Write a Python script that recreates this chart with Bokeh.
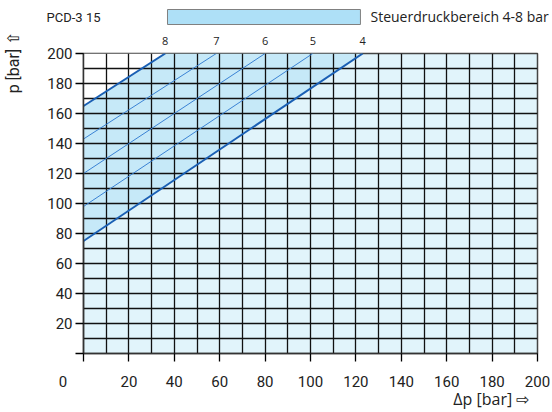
from bokeh.plotting import figure
from bokeh.layouts import column
from bokeh.models import Range1d, SingleIntervalTicker, FixedTicker, LinearAxis
from bokeh.embed import file_html
from bokeh.resources import INLINE

# ---- data ----
chart_title = "PCD-3 15"
legend_text = "Steuerdruckbereich 4-8 bar"
x_title = "Δp [bar] ⇨"
y_title = "p [bar] ⇧"
pilot_pressures = ["8", "7", "6", "5", "4"]      # bar
p_at_zero = [165, 143, 120, 98, 75]              # p where Δp = 0
dp_at_top = [36, 58.5, 80, 101, 123]             # Δp where p = 200
x_ticks = [0, 20, 40, 60, 80, 100, 120, 140, 160, 180, 200]
y_ticks = [0, 20, 40, 60, 80, 100, 120, 140, 160, 180, 200]

TICKF = "Roboto"
DIN = "Open Sans"
TXT = "#222222"
NBSP = "\u00a0"

W = 552
LEFT, RIGHT = 83, 15
TOP_H = 26
x0, x1 = x_ticks[0], x_ticks[-1]


def hide_axis_marks(ax):
    ax.axis_line_color = None
    ax.major_tick_line_color = None
    ax.minor_tick_line_color = None
    ax.major_tick_in = 0
    ax.major_tick_out = 0


# ---------- top strip: title + legend ----------
t = figure(width=W, height=TOP_H, x_range=Range1d(x0, x1), y_range=Range1d(0, TOP_H),
           output_backend="svg", toolbar_location=None, x_axis_location=None,
           y_axis_location="left", min_border_left=LEFT, min_border_right=RIGHT,
           min_border_top=0, min_border_bottom=0)
t.grid.visible = False
t.outline_line_color = None
t.title.visible = False
ya = t.yaxis[0]
ya.ticker = FixedTicker(ticks=[9])
ya.major_label_overrides = {9: chart_title}
hide_axis_marks(ya)
ya.major_label_standoff = -17
ya.major_label_text_font = TICKF
ya.major_label_text_font_size = "13px"
ya.major_label_text_color = TXT
ra = LinearAxis(ticker=FixedTicker(ticks=[9]), major_label_overrides={9: legend_text},
                major_label_standoff=-167, major_label_text_font=DIN,
                major_label_text_font_size="14px", major_label_text_color=TXT)
hide_axis_marks(ra)
t.add_layout(ra, "right")
t.quad(left=[37], right=[122], bottom=[2], top=[17],
       fill_color="#aee0f7", line_color="#808080", line_width=1)

# ---------- main chart ----------
p = figure(width=W, height=412 - TOP_H, x_range=Range1d(x0, x1),
           y_range=Range1d(y_ticks[0], y_ticks[-1]), output_backend="svg",
           toolbar_location=None, min_border_left=LEFT, min_border_right=RIGHT,
           min_border_top=27, min_border_bottom=57)
p.title.visible = False
p.background_fill_color = "#e1f4fb"
p.border_fill_color = "white"
p.outline_line_color = "#444444"
p.outline_line_width = 1.5

top = y_ticks[-1]
p.patch([0, dp_at_top[0], 0], [p_at_zero[0], top, top],
        fill_color="white", line_color=None, level="image")
p.patch([0, dp_at_top[-1], dp_at_top[0], 0], [p_at_zero[-1], top, top, p_at_zero[0]],
        fill_color="#c6e9f8", line_color=None, level="image")

for g in (p.xgrid, p.ygrid):
    g.ticker = SingleIntervalTicker(interval=10)
    g.grid_line_color = "#111111"
    g.grid_line_width = 1.3

for i, lab in enumerate(pilot_pressures):
    thick = lab in ("8", "4")
    p.line([0, dp_at_top[i]], [p_at_zero[i], top],
           line_color="#1a5fb4" if thick else "#3a82d4",
           line_width=2 if thick else 1)

for ax, ticks in ((p.xaxis[0], x_ticks), (p.yaxis[0], y_ticks)):
    ax.ticker = FixedTicker(ticks=ticks)
    ax.minor_tick_line_color = None
    ax.major_tick_in = 0
    ax.major_tick_out = 8
    ax.major_tick_line_color = "black"
    ax.major_tick_line_width = 1.3
    ax.axis_line_color = "#333333"
    ax.axis_line_width = 1.5
    ax.major_label_text_font = TICKF
    ax.major_label_text_font_size = "15px"
    ax.major_label_text_color = TXT
    ax.axis_label_text_font_style = "normal"
    ax.axis_label_text_color = TXT

xa = p.xaxis[0]
xa.major_label_overrides = {0: "0" + NBSP * 11}
xa.major_label_standoff = 11
xa.axis_label = NBSP * 87 + x_title
xa.axis_label_text_font = DIN
xa.axis_label_text_font_size = "16px"
xa.axis_label_standoff = -6

yax = p.yaxis[0]
yax.major_label_overrides = {0: ""}
yax.major_label_standoff = 3
yax.axis_label = NBSP * 71 + y_title
yax.axis_label_text_font = TICKF
yax.axis_label_text_font_size = "16px"
yax.axis_label_standoff = 21

# pilot pressure labels above the chart
top_axis = LinearAxis(ticker=FixedTicker(ticks=dp_at_top),
                      major_label_overrides={d: s for d, s in zip(dp_at_top, pilot_pressures)},
                      major_label_standoff=9, major_label_text_font=DIN,
                      major_label_text_font_size="11px", major_label_text_color=TXT)
hide_axis_marks(top_axis)
p.add_layout(top_axis, "above")

layout = column(t, p, spacing=0)
open("out.html", "w").write(file_html(layout, INLINE))
